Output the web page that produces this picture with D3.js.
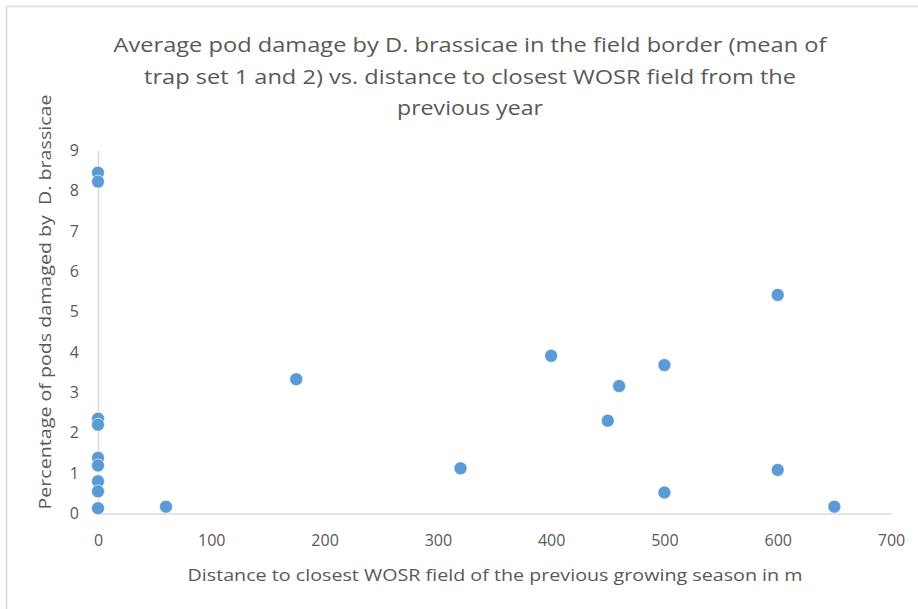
<!DOCTYPE html>
<html>
<head>
<meta charset="utf-8">
<script src="https://cdn.jsdelivr.net/npm/d3@7"></script>
<style>
  html, body { margin: 0; padding: 0; background: #fff; }
  svg { display: block; }
  text { font-family: "Open Sans", "Noto Sans", sans-serif; }
</style>
</head>
<body>
<svg id="chart" width="918" height="609"></svg>
<script>
// Distance to closest WOSR field of the previous season (m)
const distance = [0, 0, 0, 0, 0, 0, 0, 0, 0, 60, 175, 320, 400, 450, 460, 500, 500, 600, 600, 650];
// Mean pod damage by D. brassicae in the field border (%)
const damage = [8.45, 8.23, 2.35, 2.2, 1.38, 1.19, 0.8, 0.55, 0.13, 0.17, 3.33, 1.12, 3.91, 2.3, 3.16, 3.68, 0.52, 5.42, 1.08, 0.17];

const xTicks = [0, 100, 200, 300, 400, 500, 600, 700];
const yTicks = [0, 1, 2, 3, 4, 5, 6, 7, 8, 9];

const titleLines = [
  "Average pod damage by D. brassicae in the field border (mean of",
  "trap set 1 and 2) vs. distance to closest WOSR field from the",
  "previous year"
];
const xTitle = "Distance to closest WOSR field of the previous growing season in m";
const yTitle = "Percentage of pods damaged by  D. brassicae";

const W = 918, H = 609;
const plot = { left: 98, right: 891, top: 150.5, bottom: 513.5 };
const textGrey = "#595959";
const axisGrey = "#d9d9d9";
const dotBlue = "#5b9bd5";

const svg = d3.select("#chart");

// chart frame
svg.append("rect")
  .attr("x", 6.5).attr("y", 6.5)
  .attr("width", W + 10).attr("height", H + 10)
  .attr("fill", "#fff")
  .attr("stroke", axisGrey).attr("stroke-width", 1.5);

const x = d3.scaleLinear().domain([0, 700]).range([plot.left, plot.right]);
const y = d3.scaleLinear().domain([0, 9]).range([plot.bottom, plot.top]);

// title
const title = svg.append("g").attr("fill", textGrey).attr("font-size", 20.5);
const titleWidths = [713, 652, 146];
titleLines.forEach((t, i) => {
  title.append("text")
    .attr("x", 470).attr("y", 52 + i * 31.5)
    .attr("text-anchor", "middle")
    .attr("textLength", titleWidths[i])
    .attr("lengthAdjust", "spacingAndGlyphs")
    .text(t);
});

// x axis
const xAxis = svg.append("g")
  .attr("transform", `translate(0,${plot.bottom})`)
  .call(d3.axisBottom(x).tickValues(xTicks).tickSize(0).tickPadding(21).tickFormat(d3.format("d")));
xAxis.select(".domain").attr("stroke", axisGrey).attr("stroke-width", 1.5);
xAxis.selectAll("text").attr("fill", textGrey).attr("font-size", 16)
  .attr("font-family", "'Open Sans', sans-serif");

// y axis
const yAxis = svg.append("g")
  .attr("transform", `translate(${plot.left},0)`)
  .call(d3.axisLeft(y).tickValues(yTicks).tickSize(0).tickPadding(19).tickFormat(d3.format("d")));
yAxis.select(".domain").attr("stroke", axisGrey).attr("stroke-width", 1.5);
yAxis.selectAll("text").attr("fill", textGrey).attr("font-size", 16)
  .attr("font-family", "'Open Sans', sans-serif");

// axis titles
svg.append("text")
  .attr("x", 495).attr("y", 581)
  .attr("text-anchor", "middle")
  .attr("fill", textGrey).attr("font-size", 16.5)
  .attr("textLength", 615).attr("lengthAdjust", "spacingAndGlyphs")
  .text(xTitle);

svg.append("text")
  .attr("transform", "translate(51,302) rotate(-90)")
  .attr("text-anchor", "middle")
  .attr("fill", textGrey).attr("font-size", 16.5)
  .attr("textLength", 415).attr("lengthAdjust", "spacingAndGlyphs")
  .attr("xml:space", "preserve")
  .style("white-space", "pre")
  .text(yTitle);

// points
svg.append("g")
  .selectAll("circle")
  .data(distance.map((d, i) => ({ d, v: damage[i] })))
  .join("circle")
  .attr("cx", p => x(p.d))
  .attr("cy", p => y(p.v))
  .attr("r", 6.5)
  .attr("fill", dotBlue)
  .attr("stroke", "#fff").attr("stroke-width", 0.6);
</script>
</body>
</html>
